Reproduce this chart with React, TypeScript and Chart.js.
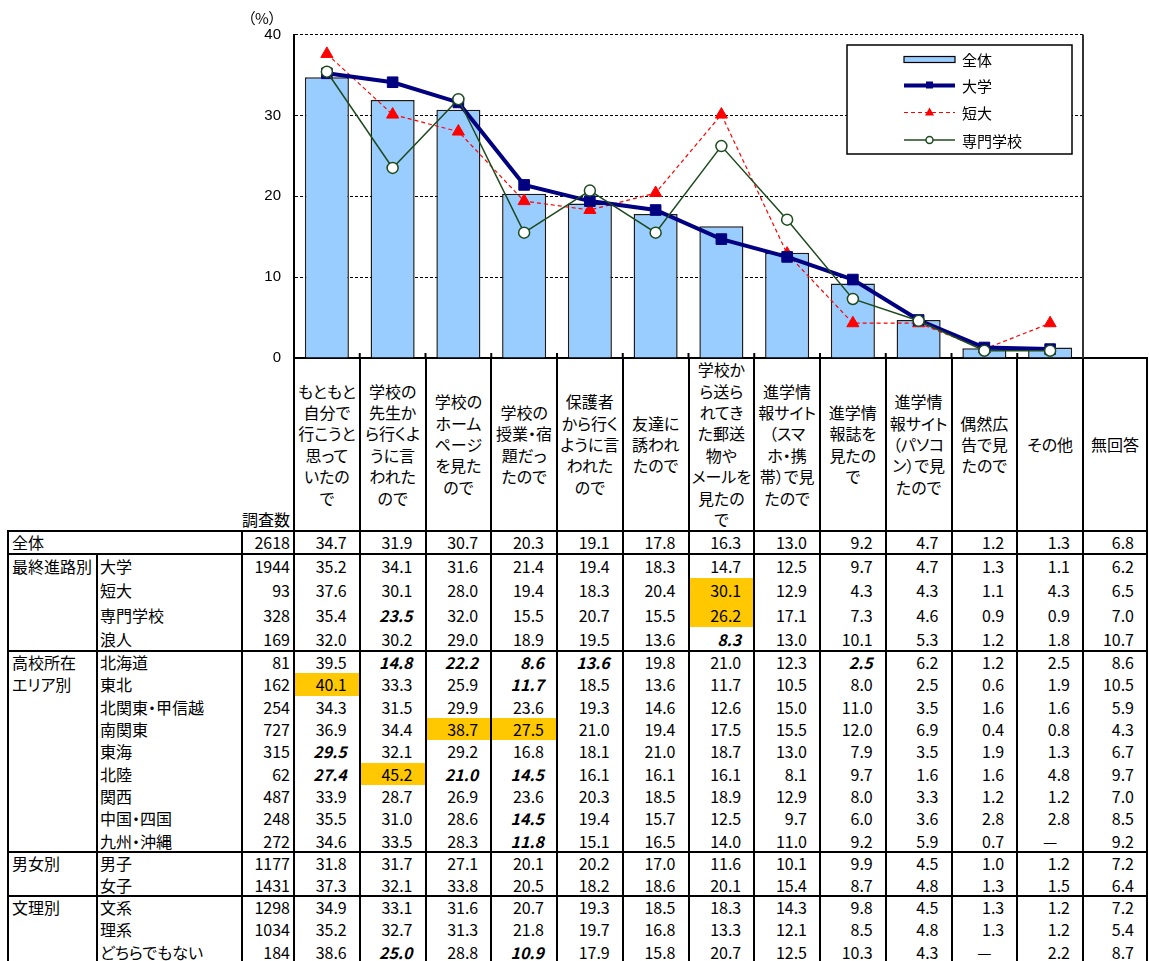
import React, { useEffect, useRef } from "react";
import { Chart, registerables } from "chart.js";
Chart.register(...registerables);

// ---------------- data ----------------
const categories = [
  "もともと\n自分で\n行こうと\n思って\nいたの\nで",
  "学校の\n先生か\nら行くよ\nうに言\nわれた\nので",
  "学校の\nホーム\nページ\nを見た\nので",
  "学校の\n授業・宿\n題だっ\nたので",
  "保護者\nから行く\nように言\nわれた\nので",
  "友達に\n誘われ\nたので",
  "学校か\nら送ら\nれてき\nた郵送\n物や\nメールを\n見たの\nで",
  "進学情\n報サイト\n（スマ\nホ・携\n帯）で見\nたので",
  "進学情\n報誌を\n見たの\nで",
  "進学情\n報サイト\n（パソコ\nン）で見\nたので",
  "偶然広\n告で見\nたので",
  "その他",
];
const extraColumn = "無回答";
const countHeader = "調査数";
const unitLabel = "（%）";
const yMin = 0;
const yMax = 40;
const yStep = 10;

const seriesNames = ["全体", "大学", "短大", "専門学校"];
const overall = [34.7, 31.9, 30.7, 20.3, 19.1, 17.8, 16.3, 13.0, 9.2, 4.7, 1.2, 1.3];
const univ = [35.2, 34.1, 31.6, 21.4, 19.4, 18.3, 14.7, 12.5, 9.7, 4.7, 1.3, 1.1];
const junior = [37.6, 30.1, 28.0, 19.4, 18.3, 20.4, 30.1, 12.9, 4.3, 4.3, 1.1, 4.3];
const vocational = [35.4, 23.5, 32.0, 15.5, 20.7, 15.5, 26.2, 17.1, 7.3, 4.6, 0.9, 0.9];

const groupNames = ["全体", "最終進路別", "高校所在\nエリア別", "男女別", "文理別"];
const rowLabels = [
  "全体", "大学", "短大", "専門学校", "浪人",
  "北海道", "東北", "北関東・甲信越", "南関東", "東海", "北陸", "関西", "中国・四国", "九州・沖縄",
  "男子", "女子", "文系", "理系", "どちらでもない",
];
const rowGroups = [0, 1, 1, 1, 1, 2, 2, 2, 2, 2, 2, 2, 2, 2, 3, 3, 4, 4, 4];
const rowCounts = ["2618", "1944", "93", "328", "169", "81", "162", "254", "727", "315", "62", "487", "248", "272", "1177", "1431", "1298", "1034", "184"];
const rowValues: string[][] = [
  ["34.7", "31.9", "30.7", "20.3", "19.1", "17.8", "16.3", "13.0", "9.2", "4.7", "1.2", "1.3", "6.8"],
  ["35.2", "34.1", "31.6", "21.4", "19.4", "18.3", "14.7", "12.5", "9.7", "4.7", "1.3", "1.1", "6.2"],
  ["37.6", "30.1", "28.0", "19.4", "18.3", "20.4", "30.1", "12.9", "4.3", "4.3", "1.1", "4.3", "6.5"],
  ["35.4", "23.5", "32.0", "15.5", "20.7", "15.5", "26.2", "17.1", "7.3", "4.6", "0.9", "0.9", "7.0"],
  ["32.0", "30.2", "29.0", "18.9", "19.5", "13.6", "8.3", "13.0", "10.1", "5.3", "1.2", "1.8", "10.7"],
  ["39.5", "14.8", "22.2", "8.6", "13.6", "19.8", "21.0", "12.3", "2.5", "6.2", "1.2", "2.5", "8.6"],
  ["40.1", "33.3", "25.9", "11.7", "18.5", "13.6", "11.7", "10.5", "8.0", "2.5", "0.6", "1.9", "10.5"],
  ["34.3", "31.5", "29.9", "23.6", "19.3", "14.6", "12.6", "15.0", "11.0", "3.5", "1.6", "1.6", "5.9"],
  ["36.9", "34.4", "38.7", "27.5", "21.0", "19.4", "17.5", "15.5", "12.0", "6.9", "0.4", "0.8", "4.3"],
  ["29.5", "32.1", "29.2", "16.8", "18.1", "21.0", "18.7", "13.0", "7.9", "3.5", "1.9", "1.3", "6.7"],
  ["27.4", "45.2", "21.0", "14.5", "16.1", "16.1", "16.1", "8.1", "9.7", "1.6", "1.6", "4.8", "9.7"],
  ["33.9", "28.7", "26.9", "23.6", "20.3", "18.5", "18.9", "12.9", "8.0", "3.3", "1.2", "1.2", "7.0"],
  ["35.5", "31.0", "28.6", "14.5", "19.4", "15.7", "12.5", "9.7", "6.0", "3.6", "2.8", "2.8", "8.5"],
  ["34.6", "33.5", "28.3", "11.8", "15.1", "16.5", "14.0", "11.0", "9.2", "5.9", "0.7", "—", "9.2"],
  ["31.8", "31.7", "27.1", "20.1", "20.2", "17.0", "11.6", "10.1", "9.9", "4.5", "1.0", "1.2", "7.2"],
  ["37.3", "32.1", "33.8", "20.5", "18.2", "18.6", "20.1", "15.4", "8.7", "4.8", "1.3", "1.5", "6.4"],
  ["34.9", "33.1", "31.6", "20.7", "19.3", "18.5", "18.3", "14.3", "9.8", "4.5", "1.3", "1.2", "7.2"],
  ["35.2", "32.7", "31.3", "21.8", "19.7", "16.8", "13.3", "12.1", "8.5", "4.8", "1.3", "1.2", "5.4"],
  ["38.6", "25.0", "28.8", "10.9", "17.9", "15.8", "20.7", "12.5", "10.3", "4.3", "—", "2.2", "8.7"],
];
const lowCells = ["3-1", "4-6", "5-1", "5-2", "5-3", "5-4", "5-8", "6-3", "9-0", "10-0", "10-2", "10-3", "12-3", "13-3", "18-1", "18-3"];
const highCells = ["2-6", "3-6", "6-0", "8-2", "8-3", "10-1"];

// ---------------- layout / style ----------------
const W = 1149;
const H = 961;
const NAVY = "#000080";
const RED = "#FF0000";
const GREEN = "#1E4B1E";
const BAR = "#99CCFF";
const HL = "#FFC800";
const JP = '"Noto Sans CJK JP", "Noto Sans", sans-serif';

const plotLeft = 294;
const plotRight = 1083;
const plotTop = 34.5;
const plotBottom = 357.5;
const catW = (plotRight - plotLeft) / categories.length;
const catEdges = Array.from({ length: categories.length + 1 }, (_, i) => plotLeft + catW * i);
const colX = [8, 97, 242, ...catEdges, 1147];
const headerTop = 357.5;
const bodyTop = 531;
const groupBottoms = [554, 651, 852, 896, 963];
const canvasH = 380;

const overlayPlugin = {
  id: "overlay",
  beforeDatasetsDraw(chart: any) {
    const { ctx, chartArea, scales } = chart;
    ctx.save();
    ctx.strokeStyle = "#333";
    ctx.lineWidth = 2;
    ctx.beginPath();
    ctx.moveTo(chartArea.right, chartArea.top);
    ctx.lineTo(chartArea.right, chartArea.bottom);
    ctx.stroke();
    ctx.strokeStyle = "#000";
    const xs = scales.x;
    for (let i = 1; i < categories.length; i++) {
      const x = (xs.getPixelForValue(i - 1) + xs.getPixelForValue(i)) / 2;
      ctx.beginPath();
      ctx.moveTo(x, chartArea.bottom - 5);
      ctx.lineTo(x, chartArea.bottom);
      ctx.stroke();
    }
    ctx.restore();
  },
  afterDatasetsDraw(chart: any) {
    const { ctx, chartArea } = chart;
    ctx.save();
    ctx.fillStyle = "#000";
    ctx.font = `15px ${JP}`;
    ctx.textAlign = "center";
    ctx.textBaseline = "middle";
    ctx.fillText(unitLabel, chartArea.left - 32, 18);
    const bx = chartArea.right - 236;
    const by = chartArea.top + 10.5;
    const bw = 225;
    const bh = 109;
    ctx.fillStyle = "#fff";
    ctx.fillRect(bx, by, bw, bh);
    ctx.strokeStyle = "#000";
    ctx.lineWidth = 1.5;
    ctx.strokeRect(bx, by, bw, bh);
    const rowsY = [14.5, 40.5, 67.5, 95];
    const x1 = bx + 57;
    const x2 = bx + 108;
    const xc = (x1 + x2) / 2;
    const ds = chart.data.datasets;
    const byLabel = (l: string) => ds.find((d: any) => d.label === l);
    seriesNames.forEach((name, i) => {
      const y = by + rowsY[i];
      const d = byLabel(name);
      ctx.save();
      if (d.type === "bar") {
        ctx.fillStyle = d.backgroundColor;
        ctx.fillRect(x1, y - 3, x2 - x1, 6);
        ctx.strokeStyle = "#000";
        ctx.lineWidth = 1.2;
        ctx.strokeRect(x1, y - 3, x2 - x1, 6);
      } else {
        ctx.strokeStyle = d.borderColor;
        ctx.lineWidth = d.borderWidth;
        ctx.setLineDash(d.borderDash || []);
        ctx.beginPath();
        ctx.moveTo(x1, y);
        ctx.lineTo(x2, y);
        ctx.stroke();
        ctx.setLineDash([]);
        ctx.fillStyle = d.pointBackgroundColor;
        ctx.strokeStyle = d.pointBorderColor;
        ctx.lineWidth = d.pointBorderWidth;
        if (d.pointStyle === "rect") {
          ctx.fillRect(xc - 3.5, y - 4, 7, 7);
        } else if (d.pointStyle === "triangle") {
          ctx.beginPath();
          ctx.moveTo(xc, y - 5);
          ctx.lineTo(xc + 4.5, y + 3);
          ctx.lineTo(xc - 4.5, y + 3);
          ctx.closePath();
          ctx.fill();
        } else {
          ctx.beginPath();
          ctx.arc(xc, y, 3.5, 0, Math.PI * 2);
          ctx.fill();
          ctx.stroke();
        }
      }
      ctx.restore();
      ctx.fillStyle = "#000";
      ctx.font = `15px ${JP}`;
      ctx.textAlign = "left";
      ctx.textBaseline = "middle";
      ctx.fillText(name, bx + 115, y + 1);
    });
    ctx.restore();
  },
};

export default function App() {
  const canvasRef = useRef<HTMLCanvasElement>(null);

  useEffect(() => {
    document.body.style.margin = "0";
    document.body.style.overflow = "hidden";
    const canvas = canvasRef.current!;
    const chart = new Chart(canvas, {
      type: "bar",
      data: {
        labels: categories.map((c) => c.replace(/\n/g, "")),
        datasets: [
          {
            type: "line",
            label: seriesNames[3],
            data: vocational,
            borderColor: GREEN,
            borderWidth: 1.5,
            pointStyle: "circle",
            pointRadius: 5.5,
            pointBackgroundColor: "#fff",
            pointBorderColor: GREEN,
            pointBorderWidth: 1.5,
            tension: 0,
            order: 1,
          } as any,
          {
            type: "line",
            label: seriesNames[1],
            data: univ,
            borderColor: NAVY,
            borderWidth: 4,
            pointStyle: "rect",
            pointRadius: 7.5,
            pointBackgroundColor: NAVY,
            pointBorderColor: NAVY,
            pointBorderWidth: 1,
            tension: 0,
            order: 2,
          } as any,
          {
            type: "line",
            label: seriesNames[2],
            data: junior,
            borderColor: RED,
            borderWidth: 1.2,
            borderDash: [4, 3],
            pointStyle: "triangle",
            pointRadius: 7,
            pointBackgroundColor: RED,
            pointBorderColor: RED,
            pointBorderWidth: 1,
            tension: 0,
            order: 3,
          } as any,
          {
            type: "bar",
            label: seriesNames[0],
            data: overall,
            backgroundColor: BAR,
            borderColor: "#1a1a1a",
            borderWidth: 1.5,
            barPercentage: 0.67,
            categoryPercentage: 1,
            order: 4,
          } as any,
        ],
      },
      options: {
        responsive: false,
        animation: false,
        devicePixelRatio: 1,
        layout: { padding: { left: 0, right: W - plotRight, top: plotTop, bottom: 4.5 } },
        plugins: {
          legend: { display: false },
          tooltip: { enabled: false },
        },
        scales: {
          x: {
            ticks: { display: false },
            grid: { display: false },
            border: { display: true, color: "#000", width: 2 },
            afterFit: (s: any) => {
              s.height = 0;
            },
          },
          y: {
            min: yMin,
            max: yMax,
            ticks: {
              stepSize: yStep,
              padding: 13,
              color: "#000",
              font: { family: '"Liberation Sans", Arial, sans-serif', size: 15 },
            },
            grid: { color: "#000", lineWidth: 1, drawTicks: false },
            border: { display: true, color: "#000", width: 2, dash: [3, 2] },
            afterFit: (s: any) => {
              s.width = plotLeft;
            },
          },
        },
      } as any,
      plugins: [overlayPlugin],
    });
    return () => chart.destroy();
  }, []);

  const els: React.ReactNode[] = [];
  const line = (key: string, x: number, y: number, w: number, h: number) =>
    els.push(<div key={key} style={{ position: "absolute", left: x, top: y, width: w, height: h, background: "#000" }} />);

  const groupTops = [bodyTop, ...groupBottoms.slice(0, -1)];
  const rowTop: number[] = [];
  const rowH: number[] = [];
  groupNames.forEach((_, g) => {
    const idx = rowGroups.map((rg, i) => (rg === g ? i : -1)).filter((i) => i >= 0);
    const h = (groupBottoms[g] - groupTops[g]) / idx.length;
    idx.forEach((ri, k) => {
      rowTop[ri] = groupTops[g] + k * h;
      rowH[ri] = h;
    });
  });

  rowValues.forEach((vals, r) =>
    vals.forEach((_, c) => {
      if (highCells.includes(`${r}-${c}`)) {
        els.push(
          <div
            key={`hl${r}-${c}`}
            style={{ position: "absolute", left: colX[3 + c], top: rowTop[r], width: colX[4 + c] - colX[3 + c], height: rowH[r], background: HL }}
          />
        );
      }
    })
  );

  [...categories, extraColumn].forEach((c, j) => {
    els.push(
      <div
        key={`h${j}`}
        style={{
          position: "absolute",
          left: colX[3 + j],
          top: headerTop + 1,
          width: colX[4 + j] - colX[3 + j],
          height: bodyTop - headerTop - 1,
          display: "flex",
          alignItems: "center",
          justifyContent: "center",
          whiteSpace: "pre",
          textAlign: "center",
          lineHeight: "21.4px",
        }}
      >
        {c}
      </div>
    );
  });
  els.push(
    <div
      key="cnt"
      style={{
        position: "absolute",
        left: colX[2],
        width: colX[3] - colX[2] - 5,
        top: bodyTop - 22,
        height: 21,
        lineHeight: "21px",
        textAlign: "right",
        whiteSpace: "pre",
      }}
    >
      {countHeader}
    </div>
  );

  groupNames.forEach((g, gi) => {
    if (gi === 0) return;
    const first = rowGroups.indexOf(gi);
    els.push(
      <div
        key={`g${gi}`}
        style={{ position: "absolute", left: colX[0] + 4, top: rowTop[first], lineHeight: `${rowH[first]}px`, whiteSpace: "pre" }}
      >
        {g}
      </div>
    );
  });

  rowLabels.forEach((lab, r) => {
    const t = rowTop[r];
    const h = rowH[r];
    els.push(
      <div
        key={`l${r}`}
        style={{ position: "absolute", left: r === 0 ? colX[0] + 4 : colX[1] + 3, top: t, height: h, lineHeight: `${h}px`, whiteSpace: "pre" }}
      >
        {lab}
      </div>
    );
    els.push(
      <div
        key={`n${r}`}
        style={{ position: "absolute", left: colX[2], width: colX[3] - colX[2] - 4, top: t, height: h, lineHeight: `${h}px`, textAlign: "right" }}
      >
        {rowCounts[r]}
      </div>
    );
    rowValues[r].forEach((v, c) => {
      const low = lowCells.includes(`${r}-${c}`);
      const dash = v === "—";
      els.push(
        <div
          key={`v${r}-${c}`}
          style={{
            position: "absolute",
            left: colX[3 + c],
            width: colX[4 + c] - colX[3 + c] - (dash ? 0 : 13),
            top: t,
            height: h,
            lineHeight: `${h}px`,
            textAlign: dash ? "center" : "right",
            fontWeight: low ? 700 : 400,
            fontStyle: low ? "italic" : "normal",
          }}
        >
          {v}
        </div>
      );
    });
  });

  const lw = 2;
  line("ht", colX[3] - 1, headerTop - 1, colX[colX.length - 1] - colX[3] + 2, lw);
  [bodyTop, ...groupBottoms].forEach((y, i) => line(`hb${i}`, colX[0] - 1, y - 1, colX[colX.length - 1] - colX[0] + 2, lw));
  colX.forEach((x, i) => {
    if (i >= 3) line(`vh${i}`, x - 1, headerTop - 1, lw, bodyTop - headerTop + 1);
    if (i === 1) line(`vb${i}`, x - 1, groupBottoms[0] - 1, lw, groupBottoms[4] - groupBottoms[0] + 2);
    else line(`vb${i}`, x - 1, bodyTop - 1, lw, groupBottoms[4] - bodyTop + 2);
  });

  return (
    <div
      style={{
        position: "relative",
        width: W,
        height: H,
        overflow: "hidden",
        background: "#fff",
        fontFamily: JP,
        fontSize: 16,
        color: "#000",
        fontFeatureSettings: '"palt"',
      }}
    >
      {els}
      <canvas ref={canvasRef} width={W} height={canvasH} style={{ position: "absolute", left: 0, top: 0, width: W, height: canvasH }} />
    </div>
  );
}
